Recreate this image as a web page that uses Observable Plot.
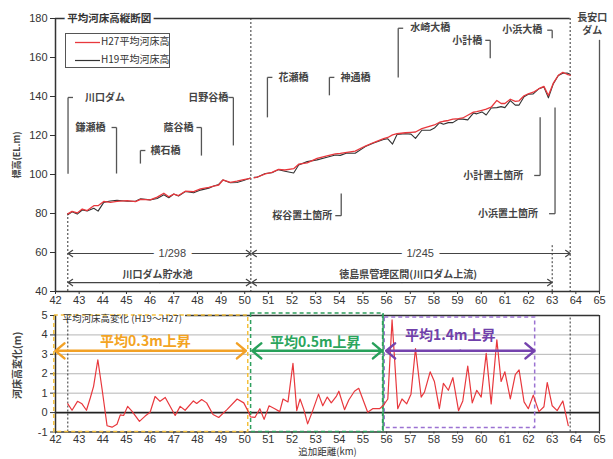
<!DOCTYPE html>
<html><head><meta charset="utf-8">
<script src="https://cdn.jsdelivr.net/npm/d3@7"></script>
<script src="https://cdn.jsdelivr.net/npm/@observablehq/plot@0.6"></script>
<style>
body{margin:0;background:#fff;}
#wrap{position:relative;width:613px;height:459px;overflow:hidden;background:#fff;}
#top{position:absolute;left:0;top:0;}
#bot{position:absolute;left:0;top:312px;}
#legend{position:absolute;left:65px;top:33px;}
</style></head><body>
<div id="wrap"><div id="top"></div><div id="bot"></div><div id="legend"></div></div>
<script>
// ---------- data ----------
const xTicks = [42,43,44,45,46,47,48,49,50,51,52,53,54,55,56,57,58,59,60,61,62,63,64,65];
const yTicksTop = [40,60,80,100,120,140,160,180];
const yTicksBot = [-1,0,1,2,3,4,5];
const gridBot = [1,2,3,4];

const elevKm = [
42.52,42.70,42.92,43.13,43.34,43.62,43.80,44.04,44.32,44.60,
45.03,45.38,45.60,46.00,46.30,46.58,46.79,47.00,47.20,47.49,
47.84,48.13,48.48,48.69,48.90,49.08,49.39,49.67,49.95,50.24,
50.32,50.40,50.52,50.87,51.15,51.43,51.70,52.07,52.28,52.64,
53.06,53.48,53.83,54.04,54.32,54.67,55.10,55.45,55.87,56.05,
56.25,56.44,56.79,57.03,57.22,57.49,57.84,58.02,58.24,58.40,
58.61,58.80,59.04,59.22,59.43,59.67,59.81,60.03,60.21,60.42,
60.66,60.84,61.00,61.23,61.44,61.60,61.81,61.99,62.20,62.44,
62.65,62.84,63.05,63.26,63.45,63.63,63.76];
const elevH27 = [
79.8,81.1,80.3,82.3,81.5,84.0,84.0,86.2,85.7,86.2,
86.6,86.1,87.2,87.0,88.4,90.4,88.6,89.9,89.2,91.4,
91.2,92.6,93.4,94.0,94.6,97.2,96.0,96.6,97.4,98.0,
null,98.3,98.6,100.3,101.1,102.6,102.3,103.0,105.3,106.0,
108.3,109.6,110.6,110.8,111.4,112.0,114.6,116.4,118.4,119.0,
120.3,120.9,121.4,121.6,121.8,123.5,124.8,125.4,126.8,127.3,
127.7,128.4,128.6,129.0,130.4,132.0,132.2,132.9,133.5,134.5,
138.0,136.4,136.4,138.6,137.5,137.8,140.4,141.4,142.2,144.0,
145.2,140.5,146.9,150.9,152.4,151.4,150.9];
const elevH19 = [
79.3,80.9,79.7,81.8,81.3,82.7,81.2,85.7,86.4,86.8,
86.3,86.3,87.6,87.0,87.7,89.6,88.1,90.0,89.0,91.3,
90.6,92.0,93.0,94.1,94.9,97.2,95.8,95.9,96.9,98.2,
null,98.6,98.6,100.5,100.9,102.5,101.7,100.8,104.9,106.6,
107.5,108.8,110.0,109.8,111.0,110.9,114.3,116.2,118.0,118.3,
115.6,120.5,120.9,120.7,118.5,122.7,122.7,123.8,126.6,125.8,
126.6,126.6,128.5,128.4,128.0,131.5,131.1,132.1,130.5,134.1,
134.3,134.8,134.3,137.9,135.6,135.6,139.9,141.2,141.3,144.0,
144.9,139.3,146.6,150.8,151.9,152.0,151.4];

const changeKm = [
42.52,42.70,42.93,43.12,43.31,43.47,43.61,43.79,43.97,44.18,
44.39,44.60,44.74,44.88,45.05,45.23,45.55,45.79,46.00,46.21,
46.42,46.64,47.06,47.27,47.48,47.83,47.97,48.18,48.39,48.66,
48.90,49.25,49.68,49.96,50.17,50.24,50.43,50.64,50.82,51.03,
51.27,51.48,51.62,51.83,52.04,52.20,52.34,52.50,52.66,52.86,
53.12,53.30,53.49,53.66,53.88,53.98,54.22,54.40,54.64,54.82,
55.20,55.41,55.70,55.87,56.05,56.23,56.47,56.65,56.85,57.03,
57.22,57.46,57.60,57.84,58.02,58.23,58.40,58.61,58.80,59.04,
59.22,59.43,59.62,59.81,60.00,60.21,60.42,60.66,60.84,61.00,
61.23,61.44,61.60,61.81,61.99,62.20,62.44,62.65,62.79,63.00,
63.21,63.45,63.68];
const changeVal = [
0.45,0.12,0.58,0.45,0.12,0.75,1.35,2.72,1.2,-0.68,
-0.75,-0.6,-0.12,-0.15,0.32,0.08,-0.45,-0.18,0.02,0.83,
0.58,0.78,-0.15,0.32,0.12,0.6,0.47,0.67,0.5,-0.1,
-0.25,0.15,0.7,0.5,0.0,-0.22,-0.25,0.2,-0.35,0.35,
0.2,0.05,0.7,0.55,2.54,0.1,0.7,0.15,-0.58,0.05,
0.95,0.35,0.8,0.5,0.85,1.1,0.15,0.65,1.1,1.25,
0.02,0.2,0.2,0.38,0.7,4.77,0.2,0.7,0.45,0.95,
3.3,0.8,1.05,2.1,1.6,0.2,1.5,1.15,1.8,0.1,
0.6,2.4,0.5,1.15,0.8,3.05,0.45,3.75,1.6,2.1,
0.7,1.95,2.2,0.55,0.2,0.9,0.05,0.3,1.55,0.35,
0.1,0.6,-0.67];

// bridge / dam labels (leader goes down from label)
const bridgeNames = ["川口ダム","鎌瀬橋","横石橋","蔭谷橋","日野谷橋","花瀬橋","神通橋","水崎大橋","小計橋","小浜大橋"];
const bridgeKm    = [42.53,44.58,45.59,48.17,49.52,50.96,53.58,56.49,60.38,63.00];
const bridgeTop   = [139.5,124.1,112.3,124.1,139.5,149.8,149.8,175.0,168.8,174.0];
const bridgeEnd   = [100.4,100.5,105.6,109.7,114.9,129.3,140.6,149.8,159.6,169.9];
const bridgeSide  = [1,-1,1,-1,-1,1,1,1,-1,-1];
// sediment placement labels (leader goes up from label)
const placeNames = ["桜谷置土箇所","小計置土箇所","小浜置土箇所"];
const placeKm    = [54.08,62.49,63.12];
const placeBase  = [78.9,99.5,79.9];
const placeTop   = [90.2,129.3,134.4];
// dam at upstream end
const damName = "長安口\nダム";
const damKm = 65;
// gradient / reach spans
const gradLabels = ["1/298","1/245"];
const gradFrom = [42.53,50.30];
const gradTo   = [50.26,63.76];
const gradLabelKm = [46.94,57.42];
const gradY = 59.5;
const reachLabels = ["川口ダム貯水池","徳島県管理区間(川口ダム上流)"];
const reachFrom = [42.53,50.30];
const reachTo   = [50.26,63.00];
const reachLabelKm = [46.31,56.91];
const reachY = 44.6, reachLabelY = 48.8;
const sectionLinesTop = [{km:42.52,y1:80,y2:40},{km:50.26,y1:180,y2:40},{km:63.76,y1:180,y2:40},{km:63.0,y1:63.5,y2:40}];
// lower sections
const secLabels = ["平均0.3m上昇","平均0.5m上昇","平均1.4m上昇"];
const secBoxFrom = [41.95,50.27,55.92];
const secBoxTo   = [50.15,55.85,62.28];
const secBoxLow  = [-1,-1,-0.8];
const secBoxHigh = [5,5.1,4.9];
const secArrowFrom = [42.0,50.32,55.98];
const secArrowTo   = [50.05,55.80,62.25];
const secArrowY = 3.18;
const secLabelKm = [45.8,52.98,58.69];
const secLabelY  = [3.68,3.62,3.98];

// ---------- build ----------
const JP = "'Noto Sans CJK JP','Noto Sans',sans-serif";
const NUM = "'Liberation Sans Narrow','Liberation Sans','Noto Sans CJK JP',sans-serif";
const elev = elevKm.map((km,i)=>({km, h27: elevH27[i], h19: elevH19[i]}));
const change = changeKm.map((km,i)=>({km, v: changeVal[i]}));
const bridges = bridgeNames.map((name,i)=>({name, km:bridgeKm[i], top:bridgeTop[i], end:bridgeEnd[i], side:bridgeSide[i]}));
const places = placeNames.map((name,i)=>({name, km:placeKm[i], base:placeBase[i], top:placeTop[i]}));
const bridgeGap = [17,11,10,8,5,11,11,12,8,10];
const placeGap = [9,17,17];
const tick = 0.21;
const grads = gradLabels.map((label,i)=>({label, a:gradFrom[i], b:gradTo[i], m:gradLabelKm[i]}));
const reaches = reachLabels.map((label,i)=>({label, a:reachFrom[i], b:reachTo[i], m:reachLabelKm[i]}));
const dblArrows = (arr, y) => arr.flatMap(d=>[{x1:d.m,x2:d.a,y},{x1:d.m,x2:d.b,y}]);
const secs = secLabels.map((label,i)=>({label, x1:secBoxFrom[i], x2:secBoxTo[i], y1:secBoxLow[i], y2:secBoxHigh[i],
  a:secArrowFrom[i], b:secArrowTo[i], lx:secLabelKm[i], ly:secLabelY[i], i}));
const boxColors = ["#f4c03c","#2f9f5e","#9b72d2"];
const arrowColors = ["#f2a126","#27a05a","#7442ad"];
const textColors = ["#f3a321","#2aa55c","#7040aa"];
const gray = "#444";
const fmt = d => String(d);

const topPlot = Plot.plot({
  width: 613, height: 312,
  marginLeft: 55, marginRight: 14, marginTop: 18, marginBottom: 21,
  style: {fontFamily: NUM, fontSize: "11px", color: "#333", background: "transparent", overflow: "visible"},
  x: {domain: [42,65]},
  y: {domain: [40,180]},
  marks: [
    Plot.axisX({ticks: xTicks, tickFormat: fmt, tickSize: 3, tickPadding: 2, label: null, fontSize: 11}),
    Plot.axisY({ticks: yTicksTop, tickFormat: fmt, tickSize: 5, tickPadding: 3, label: null, fontSize: 11}),
    Plot.ruleX([42], {stroke: "#333", strokeWidth: 1.5}),
    Plot.ruleY([40], {stroke: "#333", strokeWidth: 1.5}),
    Plot.ruleY([180], {x1: 42, x2: 63.76, stroke: "#333", strokeWidth: 1.3}),
    Plot.ruleX(sectionLinesTop, {x: "km", y1: "y1", y2: "y2", stroke: "#333", strokeDasharray: "2,2"}),
    Plot.text(["平均河床高縦断図"], {x: 42.5, y: 180, text: d=>d, textAnchor: "start", fontFamily: JP, fontWeight: "bold", fontSize: 10.5, fill: "#333", stroke: "white", strokeWidth: 6}),
    Plot.line(elev, {x: "km", y: "h19", stroke: "#333", strokeWidth: 1.1}),
    Plot.line(elev, {x: "km", y: "h27", stroke: "#e8383d", strokeWidth: 1.3}),
    Plot.link(bridges, {x1: "km", x2: "km", y1: "top", y2: "end", stroke: "#555", strokeWidth: 1.3}),
    Plot.link(bridges, {x1: "km", x2: d=>d.km + d.side*tick, y1: "top", y2: "top", stroke: "#555", strokeWidth: 1.3}),
    ...bridges.map((d,i)=>Plot.text([d], {x: "km", y: "top", text: "name", dx: d.side*bridgeGap[i], textAnchor: d.side>0?"start":"end",
      fontFamily: JP, fontWeight: "bold", fontSize: 10, fill: "#444"})),
    Plot.link(places, {x1: "km", x2: "km", y1: "base", y2: "top", stroke: "#555", strokeWidth: 1.3}),
    Plot.link(places, {x1: "km", x2: d=>d.km - tick*1.2, y1: "base", y2: "base", stroke: "#555", strokeWidth: 1.3}),
    ...places.map((d,i)=>Plot.text([d], {x: "km", y: "base", text: "name", dx: -placeGap[i], textAnchor: "end",
      fontFamily: JP, fontWeight: "bold", fontSize: 10, fill: "#444"})),
    Plot.ruleX([damKm], {y1: 168.8, y2: 40, stroke: "#555", strokeWidth: 1.3}),
    Plot.text([damName], {x: 64.69, y: 177.6, text: d=>d, fontFamily: JP, fontWeight: "bold", fontSize: 10, fill: "#444", lineHeight: 1.35}),
    Plot.arrow(dblArrows(grads, gradY), {x1: "x1", x2: "x2", y1: "y", y2: "y", bend: 0, headLength: 7, headAngle: 70, stroke: gray, strokeWidth: 1.2}),
    Plot.text(grads, {x: "m", y: gradY, text: "label", fontFamily: NUM, fontSize: 11, fill: "#444", stroke: "white", strokeWidth: 12}),
    Plot.arrow(dblArrows(reaches.map(d=>({...d, m:(d.a+d.b)/2})), reachY), {x1: "x1", x2: "x2", y1: "y", y2: "y", bend: 0, headLength: 7, headAngle: 70, stroke: gray, strokeWidth: 1.2}),
    Plot.text(reaches, {x: "m", y: reachLabelY, text: "label", fontFamily: JP, fontWeight: "bold", fontSize: 10, fill: "#444"}),
    Plot.text(["標高(EL.m)"], {x: 42, y: 110, text: d=>d, rotate: -90, dx: -38, fontFamily: JP, fontWeight: "bold", fontSize: 9, fill: "#444"})
  ]
});
document.getElementById("top").appendChild(topPlot);

const botPlot = Plot.plot({
  width: 613, height: 147,
  marginLeft: 55, marginRight: 14, marginTop: 3, marginBottom: 27.5,
  style: {fontFamily: NUM, fontSize: "11px", color: "#333", background: "transparent", overflow: "visible"},
  x: {domain: [42,65]},
  y: {domain: [-1,5]},
  marks: [
    Plot.ruleY(gridBot, {stroke: "#b5b5b5", strokeWidth: 1}),
    Plot.ruleY([5], {x1: 47.5, x2: 65, stroke: "#333", strokeWidth: 1.6}),
    Plot.ruleX([65], {y1: -1, y2: 5, stroke: "#333", strokeWidth: 1.3}),
    Plot.ruleY([0], {stroke: "#222", strokeWidth: 1.8}),
    Plot.ruleX([42], {stroke: "#333", strokeWidth: 1.5}),
    Plot.ruleY([-1], {stroke: "#333", strokeWidth: 1.5}),
    Plot.axisX({ticks: xTicks, tickFormat: fmt, tickSize: 2, tickPadding: 1, label: null, fontSize: 11}),
    Plot.axisY({ticks: yTicksBot, tickFormat: fmt, tickSize: 5, tickPadding: 3, label: null, fontSize: 11}),
    Plot.ruleX([42.52, 63.76], {y1: -1, y2: 5, stroke: "#333", strokeDasharray: "2,2"}),
    ...secs.map(d=>Plot.rect([d], {x1: "x1", x2: "x2", y1: "y1", y2: "y2", fill: "none", stroke: boxColors[d.i], strokeWidth: 1.5, strokeDasharray: "4,3"})),
    Plot.ruleX([secBoxTo[1]], {y1: -1, y2: 5.1, stroke: boxColors[1], strokeWidth: 1.5}),
    Plot.line(change, {x: "km", y: "v", stroke: "#e8383d", strokeWidth: 1.2}),
    ...secs.map(d=>Plot.arrow([{x1:(d.a+d.b)/2, x2:d.a},{x1:(d.a+d.b)/2, x2:d.b}], {x1: "x1", x2: "x2", y1: secArrowY, y2: secArrowY, bend: 0, headLength: 7, headAngle: 80, stroke: arrowColors[d.i], strokeWidth: 2.5})),
    ...secs.map(d=>Plot.text([d], {x: "lx", y: "ly", text: "label", fontFamily: JP, fontWeight: "bold", fontSize: 14, fill: textColors[d.i]})),
    Plot.text(["平均河床高変化 (H19～H27)"], {x: 42.3, y: 4.8, text: d=>d, textAnchor: "start", fontFamily: JP, fontSize: 9.5, fill: "#333"}),
    Plot.text(["河床高変化(m)"], {x: 42, y: 2.43, text: d=>d, rotate: -90, dx: -38, fontFamily: JP, fontWeight: "bold", fontSize: 10, fill: "#444"}),
    Plot.text(["追加距離(km)"], {frameAnchor: "bottom", dy: 22.5, text: d=>d, fontFamily: JP, fontSize: 9.5, fill: "#333"})
  ]
});
document.getElementById("bot").appendChild(botPlot);

document.getElementById("legend").innerHTML = `
<svg width="106" height="36" style="font-family:'Noto Sans CJK JP',sans-serif;font-size:10px">
<rect x="0.5" y="0.5" width="104" height="34" fill="white" stroke="#555"/>
<line x1="10" x2="35" y1="9.5" y2="9.5" stroke="#e8383d" stroke-width="1.3"/>
<text x="36" y="9.5" dominant-baseline="middle" fill="#333">H27平均河床高</text>
<line x1="10" x2="35" y1="27.5" y2="27.5" stroke="#333" stroke-width="1.2"/>
<text x="36" y="27.5" dominant-baseline="middle" fill="#333">H19平均河床高</text>
</svg>`;
</script>
</body></html>
